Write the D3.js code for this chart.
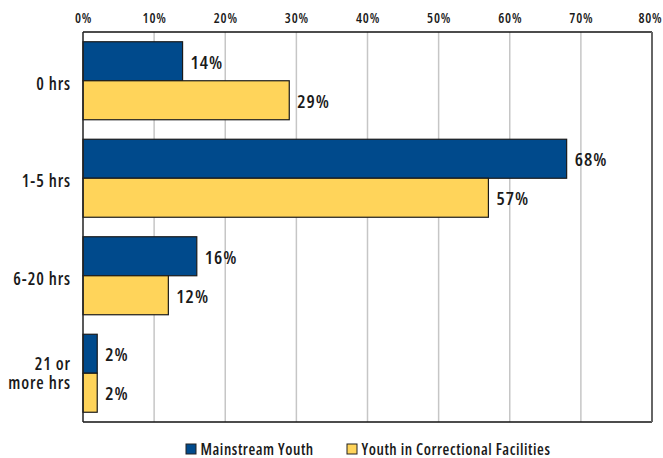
<!DOCTYPE html>
<html>
<head>
<meta charset="utf-8">
<script src="https://cdn.jsdelivr.net/npm/d3@7"></script>
<style>
    body { margin: 0; background: #fff; }
    svg { display: block; font-family: "Open Sans", sans-serif; font-stretch: condensed; font-weight: 600; }
</style>
</head>
<body>
<div id="chart"></div>
<script>
// Data
const categories = ["0 hrs", "1-5 hrs", "6-20 hrs", "21 or\nmore hrs"];
const seriesNames = ["Mainstream Youth", "Youth in Correctional Facilities"];
const mainstream = [14, 68, 16, 2];
const correctional = [29, 57, 12, 2];
const ticks = [0, 10, 20, 30, 40, 50, 60, 70, 80];

const colors = ["#004a8c", "#ffd45a"];

const width = 663, height = 458;
const margin = {top: 32, right: 11, bottom: 36, left: 83};
const innerW = width - margin.left - margin.right;
const innerH = height - margin.top - margin.bottom;

const svg = d3.select("#chart")
    .append("svg")
        .attr("width", width)
        .attr("height", height);

const g = svg.append("g")
    .attr("transform", "translate(" + margin.left + "," + margin.top + ")");

// Scales
const xScale = d3.scaleLinear()
    .domain([0, 80])
    .range([0, innerW]);

const yScale = d3.scaleBand()
    .domain(categories)
    .range([0, innerH])
    .paddingInner(0.2)
    .paddingOuter(0.1);

const subScale = d3.scaleBand()
    .domain(seriesNames)
    .range([0, yScale.bandwidth()]);

// Gridlines
g.append("g")
    .selectAll("line")
    .data(ticks.slice(1, -1))
    .enter()
    .append("line")
        .attr("x1", d => xScale(d))
        .attr("x2", d => xScale(d))
        .attr("y1", 0)
        .attr("y2", innerH)
        .attr("stroke", "#c6c6c6")
        .attr("stroke-width", 1.5);

// Top axis tick labels
const xAxis = d3.axisTop(xScale)
    .tickValues(ticks)
    .tickSize(0)
    .tickPadding(9)
    .tickFormat(d => d + "%");

const xAxisGroup = g.append("g").call(xAxis);
xAxisGroup.select(".domain").remove();
xAxisGroup.selectAll("text")
    .style("font-size", "13.5px")
    .style("font-family", "'Open Sans', sans-serif")
    .style("font-weight", "600")
    .style("letter-spacing", "0.8px")
    .attr("fill", "#1a1a1a");
// keep the last label inside the page
xAxisGroup.selectAll(".tick:last-of-type text")
    .attr("text-anchor", "end")
    .attr("x", 10);

// Bars
const rows = categories.map((c, i) => ({category: c, values: [mainstream[i], correctional[i]]}));

const groups = g.selectAll(".group")
    .data(rows)
    .enter()
    .append("g")
        .attr("class", "group")
        .attr("transform", d => "translate(0," + yScale(d.category) + ")");

groups.selectAll("rect")
    .data(d => d.values.map((v, j) => ({series: seriesNames[j], value: v, idx: j})))
    .enter()
    .append("rect")
        .attr("x", 0)
        .attr("y", d => subScale(d.series))
        .attr("width", d => xScale(d.value))
        .attr("height", subScale.bandwidth())
        .attr("fill", d => colors[d.idx])
        .attr("stroke", "#1a1a1a")
        .attr("stroke-width", 1.2);

// Value labels
groups.selectAll(".val")
    .data(d => d.values.map((v, j) => ({series: seriesNames[j], value: v})))
    .enter()
    .append("text")
        .attr("class", "val")
        .attr("x", d => xScale(d.value) + 8)
        .attr("y", d => subScale(d.series) + subScale.bandwidth() / 2 + 7.5)
        .style("font-size", "18.5px")
        .style("letter-spacing", "1px")
        .attr("fill", "#1a1a1a")
        .text(d => d.value + "%");

// Category labels
groups.append("text")
    .attr("text-anchor", "end")
    .attr("x", -12)
    .attr("y", yScale.bandwidth() / 2)
    .style("font-size", "17px")
    .style("letter-spacing", "0.9px")
    .attr("fill", "#1a1a1a")
    .each(function(d) {
        const lines = d.category.split("\n");
        const sel = d3.select(this);
        const startDy = lines.length === 1 ? 9 : -3;
        lines.forEach((line, k) => {
            sel.append("tspan")
                .attr("x", -12)
                .attr("dy", k === 0 ? startDy : 19)
                .text(line);
        });
    });

// Frame
g.append("line").attr("x1", 0).attr("x2", innerW).attr("y1", 0).attr("y2", 0)
    .attr("stroke", "#111").attr("stroke-width", 1.5);
g.append("line").attr("x1", 0).attr("x2", innerW).attr("y1", innerH).attr("y2", innerH)
    .attr("stroke", "#111").attr("stroke-width", 1.5);
g.append("line").attr("x1", 0).attr("x2", 0).attr("y1", 0).attr("y2", innerH)
    .attr("stroke", "#222").attr("stroke-width", 1.5);
g.append("line").attr("x1", innerW).attr("x2", innerW).attr("y1", 0).attr("y2", innerH)
    .attr("stroke", "#666").attr("stroke-width", 2);

// Legend
const legendX = [186, 347];
const legend = svg.append("g")
    .selectAll("g")
    .data(seriesNames)
    .enter()
    .append("g")
        .attr("transform", (d, i) => "translate(" + legendX[i] + ",444)");

legend.append("rect")
    .attr("width", 10)
    .attr("height", 10)
    .attr("fill", (d, i) => colors[i])
    .attr("stroke", "#222")
    .attr("stroke-width", 1);

legend.append("text")
    .attr("x", 14.5)
    .attr("y", 10.5)
    .style("font-size", "15.5px")
    .style("letter-spacing", "0.55px")
    .attr("fill", "#1a1a1a")
    .text(d => d);
</script>
</body>
</html>
